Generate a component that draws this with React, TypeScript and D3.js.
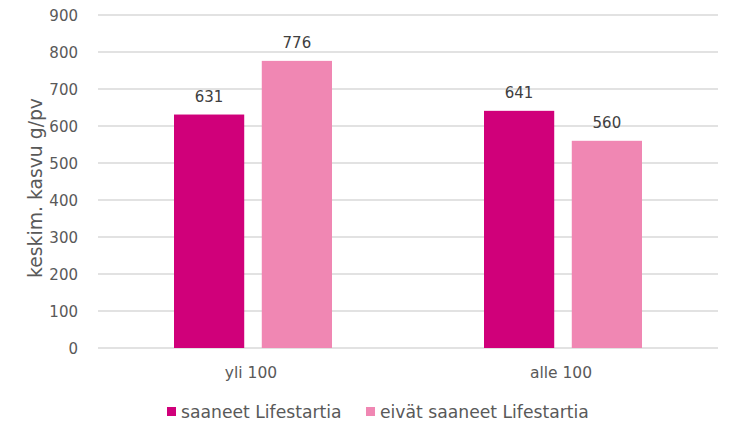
import React from "react";
import * as d3 from "d3";

const categories = ["yli 100", "alle 100"];
const seriesNames = ["saaneet Lifestartia", "eivät saaneet Lifestartia"];
const saaneet = [631, 641];
const eivat = [776, 560];
const yTicks = [0, 100, 200, 300, 400, 500, 600, 700, 800, 900];
const colors = ["#D0007A", "#F087B3"];

const W = 734, H = 434;
const left = 98, right = 718, top = 15, bottom = 348;
const font = "'DejaVu Sans', Verdana, sans-serif";
const textColor = "#595959";

export default function App() {
  const x = d3.scaleBand<string>().domain(categories).range([left, right]);
  const y = d3.scaleLinear().domain([0, 900]).range([bottom, top]);
  const x1 = d3.scaleBand<string>().domain(seriesNames).range([0, 158]).paddingInner(0.2);
  const series = [saaneet, eivat];
  return (
    <svg width={W} height={H} style={{ position: "absolute", left: 0, top: 0, background: "#fff" }}>
      {yTicks.map((t) => (
        <g key={t}>
          <line x1={left} x2={right} y1={y(t)} y2={y(t)} stroke="#d9d9d9" strokeWidth={1.3} />
          <text x={78} y={y(t)} dy="0.38em" textAnchor="end" fontFamily={font} fontSize={15} fill={textColor}>{t}</text>
        </g>
      ))}
      {categories.map((c, ci) => {
        const gx = x(c)! + x.bandwidth() / 2 - 79;
        return (
          <g key={c}>
            {series.map((s, si) => {
              const bx = gx + x1(seriesNames[si])!;
              const bw = x1.bandwidth();
              return (
                <g key={si}>
                  <rect x={bx} y={y(s[ci])} width={bw} height={bottom - y(s[ci])} fill={colors[si]} />
                  <text x={bx + bw / 2} y={y(s[ci]) - 12.5} textAnchor="middle" fontFamily={font} fontSize={15} fill="#404040">{s[ci]}</text>
                </g>
              );
            })}
            <text x={x(c)! + x.bandwidth() / 2 - 2} y={378} textAnchor="middle" fontFamily={font} fontSize={15.5} fill={textColor}>{c}</text>
          </g>
        );
      })}
      <text transform={`translate(42,188) rotate(-90)`} textAnchor="middle" fontFamily={font} fontSize={18.8} fill={textColor}>keskim. kasvu g/pv</text>
      {seriesNames.map((n, i) => {
        const lx = i === 0 ? 167 : 366;
        return (
          <g key={n}>
            <rect x={lx} y={407} width={9} height={9} fill={colors[i]} />
            <text x={lx + 14} y={418} fontFamily={font} fontSize={17.2} fill={textColor}>{n}</text>
          </g>
        );
      })}
    </svg>
  );
}
